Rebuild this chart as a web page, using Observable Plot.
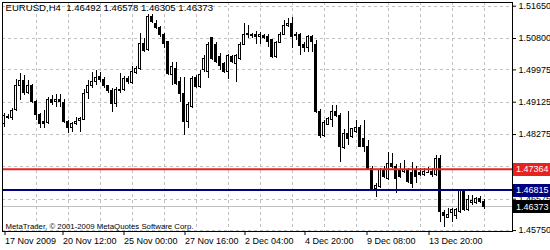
<!DOCTYPE html>
<html><head><meta charset="utf-8">
<script src="https://cdn.jsdelivr.net/npm/d3@7"></script>
<script src="https://cdn.jsdelivr.net/npm/@observablehq/plot@0.6"></script>
<style>
html,body{margin:0;padding:0;background:#fff;}
#chart svg{display:block;}
</style></head><body><div id="chart"></div>
<script>
// EURUSD H4 candles, index 0 = leftmost bar
const open = [1.4854,1.4874,1.4871,1.4891,1.4954,1.4967,1.4936,1.4954,1.4913,1.4878,
1.4860,1.4857,1.4917,1.4913,1.4917,1.4910,1.4860,1.4845,1.4856,1.4864,
1.4866,1.4936,1.4954,1.4965,1.4980,1.4971,1.4954,1.4943,1.4908,1.4945,
1.4945,1.4974,1.4964,1.4990,1.5000,1.5066,1.5051,1.5136,1.5119,1.5107,
1.5088,1.5070,1.4983,1.5000,1.4965,1.4935,1.4860,1.4899,1.4976,1.4952,
1.4996,1.4991,1.5081,1.5063,1.5031,1.5014,1.4991,1.5031,1.5014,1.5025,
1.5063,1.5090,1.5086,1.5088,1.5083,1.5086,1.5083,1.5075,1.5031,1.5069,
1.5090,1.5112,1.5119,1.5088,1.5088,1.5063,1.5055,1.5083,1.5062,1.4888,
1.4823,1.4853,1.4867,1.4888,1.4876,1.4792,1.4829,1.4820,1.4835,1.4844,
1.4817,1.4794,1.4737,1.4685,1.4689,1.4733,1.4711,1.4751,1.4743,1.4735,
1.4728,1.4733,1.4726,1.4735,1.4726,1.4720,1.4728,1.4728,1.4720,1.4764,
1.4621,1.4609,1.4621,1.4612,1.4623,1.4676,1.4630,1.4647,1.4647,1.4658,
1.46492];
const high = [1.4883,1.4880,1.4896,1.4971,1.4987,1.4983,1.4970,1.4959,1.4917,1.4883,
1.4891,1.4924,1.4930,1.4933,1.4933,1.4920,1.4864,1.4859,1.4871,1.4873,
1.4945,1.4970,1.4991,1.4996,1.4991,1.4977,1.4956,1.4949,1.4951,1.4987,
1.4980,1.4980,1.5006,1.5007,1.5092,1.5079,1.5143,1.5142,1.5127,1.5112,
1.5093,1.5072,1.5018,1.5018,1.4978,1.4978,1.4913,1.4981,1.4983,1.4996,
1.5035,1.5070,1.5083,1.5070,1.5040,1.5018,1.5037,1.5035,1.5038,1.5070,
1.5119,1.5114,1.5093,1.5098,1.5097,1.5091,1.5091,1.5077,1.5072,1.5096,
1.5127,1.5132,1.5136,1.5095,1.5093,1.5070,1.5088,1.5088,1.5075,1.4893,
1.4864,1.4873,1.4904,1.4904,1.4883,1.4841,1.4888,1.4844,1.4864,1.4851,
1.4864,1.4812,1.4743,1.4699,1.4738,1.4743,1.4781,1.4777,1.4749,1.4751,
1.4759,1.4738,1.4755,1.4743,1.4737,1.4737,1.4742,1.4737,1.4772,1.4772,
1.4628,1.4632,1.4633,1.4632,1.4682,1.4682,1.4667,1.4667,1.4663,1.4665,
1.46578];
const low = [1.4846,1.4867,1.4864,1.4888,1.4917,1.4930,1.4933,1.4909,1.4864,1.4843,
1.4843,1.4854,1.4904,1.4899,1.4899,1.4857,1.4829,1.4834,1.4851,1.4834,
1.4864,1.4919,1.4949,1.4956,1.4964,1.4949,1.4935,1.4886,1.4898,1.4935,
1.4941,1.4959,1.4959,1.4985,1.4996,1.5043,1.5046,1.5120,1.5104,1.5083,
1.5053,1.4983,1.4956,1.4956,1.4913,1.4825,1.4843,1.4896,1.4949,1.4949,
1.4991,1.4974,1.5022,1.5014,1.4996,1.4987,1.4972,1.5014,1.4965,1.5022,
1.5062,1.5079,1.5080,1.5064,1.5063,1.5077,1.5057,1.5027,1.5027,1.5067,
1.5088,1.5109,1.5055,1.5075,1.5035,1.5044,1.5044,1.5044,1.4883,1.4818,
1.4821,1.4851,1.4847,1.4872,1.4755,1.4788,1.4799,1.4817,1.4830,1.4793,
1.4781,1.4733,1.4680,1.4663,1.4686,1.4712,1.4707,1.4738,1.4672,1.4712,
1.4725,1.4698,1.4685,1.4698,1.4717,1.4717,1.4724,1.4715,1.4717,1.4597,
1.4584,1.4606,1.4597,1.4603,1.4620,1.4625,1.4626,1.4641,1.4643,1.4645,
1.46305];
const close = [1.4875,1.4872,1.4889,1.4956,1.4967,1.4936,1.4954,1.4913,1.4878,1.4856,
1.4856,1.4917,1.4910,1.4917,1.4913,1.4860,1.4845,1.4856,1.4860,1.4869,
1.4935,1.4954,1.4965,1.4977,1.4970,1.4954,1.4941,1.4908,1.4945,1.4941,
1.4974,1.4965,1.4991,1.4999,1.5066,1.5048,1.5136,1.5123,1.5107,1.5088,
1.5066,1.4987,1.5005,1.4961,1.4935,1.4860,1.4904,1.4974,1.4952,1.4985,
1.5027,1.5062,1.5027,1.5018,1.5009,1.4991,1.5033,1.5018,1.5033,1.5063,
1.5090,1.5091,1.5088,1.5085,1.5090,1.5081,1.5072,1.5031,1.5069,1.5090,
1.5114,1.5119,1.5083,1.5087,1.5060,1.5055,1.5083,1.5070,1.4886,1.4823,
1.4858,1.4869,1.4888,1.4876,1.4794,1.4829,1.4816,1.4841,1.4844,1.4794,
1.4794,1.4737,1.4685,1.4693,1.4733,1.4715,1.4751,1.4742,1.4711,1.4717,
1.4735,1.4702,1.4698,1.4717,1.4722,1.4728,1.4728,1.4722,1.4764,1.4623,
1.4612,1.4617,1.4630,1.4628,1.4678,1.4628,1.4656,1.4654,1.4658,1.4650,
1.46373];

// price grid levels and the price labels shown on the right axis
const yGrid = [1.51650, 1.50800, 1.49975, 1.49125, 1.48275, 1.47425, 1.46575, 1.45750];
const yTicks = [1.51650, 1.50800, 1.49975, 1.49125, 1.48275, 1.46575, 1.45750];
// time axis labels (bar positions) and texts
const xTickPos = [0, 14.5, 29.75, 45, 60, 75, 90.5, 106];
const xTickLabels = ["17 Nov 2009", "20 Nov 12:00", "25 Nov 00:00", "27 Nov 16:00", "2 Dec 04:00", "4 Dec 20:00", "9 Dec 08:00", "13 Dec 20:00"];
// vertical grid every 8 bars
const xGrid = [8,16,24,32,40,48,56,64,72,80,88,96,104,112,120];
// horizontal lines
const redLevel = 1.47364;
const blueLevel = 1.46815;
const header = "EURUSD,H4\u00a0\u00a01.46492 1.46578 1.46305 1.46373";
const copyright = "MetaTrader, \u00a9 2001-2009 MetaQuotes Software Corp.";

const FONT = "'Liberation Sans', Arial, sans-serif";
const candles = open.map((o, i) => ({i, open: o, high: high[i], low: low[i], close: close[i]}));
const bodies = candles.filter(d => d.open !== d.close);
const flats = candles.filter(d => d.open === d.close);
const lastClose = close[close.length - 1];
const labelMap = new Map(xTickPos.map((p, k) => [p, xTickLabels[k]]));

const chart = Plot.plot({
  width: 550, height: 250,
  marginLeft: 2, marginRight: 38, marginTop: 2, marginBottom: 19,
  style: {fontFamily: FONT, fontSize: "9px", color: "black", background: "white"},
  x: {domain: [-0.375, 127.125], axis: null},
  y: {domain: [1.45725, 1.51747], axis: null},
  marks: [
    Plot.ruleY(yGrid, {stroke: "#c0c0c0", strokeDasharray: "3,3", shapeRendering: "crispEdges"}),
    Plot.ruleX(xGrid, {stroke: "#c0c0c0", strokeDasharray: "3,3", shapeRendering: "crispEdges"}),
    Plot.ruleY([lastClose], {stroke: "#c0c0c0", shapeRendering: "crispEdges"}),
    Plot.ruleX(candles, {x: "i", y1: "low", y2: "high", stroke: "black", shapeRendering: "crispEdges"}),
    Plot.rect(bodies, {x1: d => d.i - 0.25, x2: d => d.i + 0.25, y1: "open", y2: "close",
      fill: d => d.close > d.open ? "white" : "black", stroke: "black", shapeRendering: "crispEdges"}),
    Plot.ruleY(flats, {y: "open", x1: d => d.i - 0.375, x2: d => d.i + 0.375, stroke: "black", shapeRendering: "crispEdges"}),
    Plot.ruleY([redLevel], {stroke: "#e8231f", strokeWidth: 2}),
    Plot.ruleY([blueLevel], {stroke: "#000080", strokeWidth: 2}),
    Plot.text([header], {frameAnchor: "top-left", dx: 3, dy: 2, textAnchor: "start", lineAnchor: "top", fill: "black", fontSize: 9.6}),
    Plot.text([copyright], {frameAnchor: "bottom-left", dx: 3, dy: -3, textAnchor: "start", lineAnchor: "bottom", fill: "black", fontSize: 7.8}),
    Plot.axisY(yTicks, {anchor: "right", tickSize: 3, tickPadding: 3, tickFormat: d => d.toFixed(5), label: null, fontSize: 9}),
    Plot.axisX(xTickPos, {anchor: "bottom", tickSize: 4, tickPadding: 2, tickFormat: d => labelMap.get(d), textAnchor: "start", dx: 1, label: null, fontSize: 9}),
    Plot.frame({stroke: "black", shapeRendering: "crispEdges"})
  ]
});

// price tags on the right axis, placed with the chart's own y scale
const ys = chart.scale("y");
const svg = d3.select(chart);
const tags = [
  {value: redLevel, color: "#e8231f"},
  {value: blueLevel, color: "#000080"},
  {value: lastClose, color: "#000000"}
];
tags.forEach(t => {
  const y = ys.apply(t.value);
  svg.append("rect").attr("x", 513).attr("y", Math.round(y) - 6).attr("width", 37).attr("height", 13).attr("fill", t.color);
  svg.append("text").attr("x", 516).attr("y", y).attr("dy", "0.35em").attr("fill", "white")
    .attr("text-anchor", "start").attr("font-family", FONT).attr("font-size", 9).text(t.value.toFixed(5));
});
document.getElementById("chart").appendChild(chart);
</script></body></html>
